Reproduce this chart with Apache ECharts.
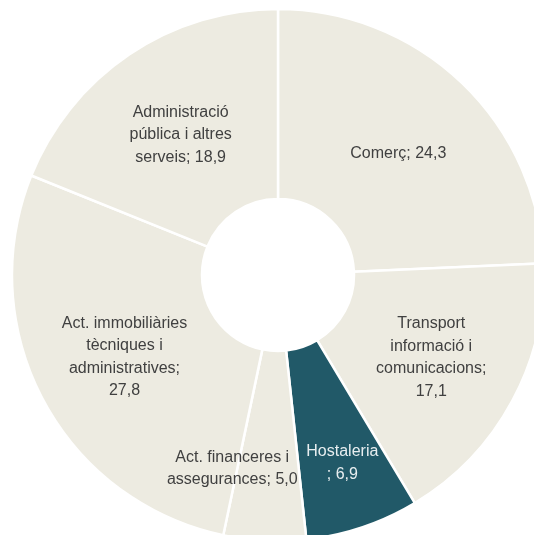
<!DOCTYPE html>
<html>
<head>
<meta charset="utf-8">
<script src="https://cdn.jsdelivr.net/npm/echarts@6/dist/echarts.min.js"></script>
<style>
html,body{margin:0;padding:0;background:#fff;}
#chart{width:534px;height:535px;}
</style>
</head>
<body>
<div id="chart"></div>
<script>
// Data
const categories = [
  'Comerç',
  'Transport\ninformació i\ncomunicacions',
  'Hostaleria\n',
  'Act. financeres i\nassegurances',
  'Act. immobiliàries\ntècniques i\nadministratives',
  'Administració\npública i altres\nserveis'
];
const valueLabels = ['24,3', '17,1', '6,9', '5,0', '27,8', '18,9'];
const separators = ['; ', ';\n', '; ', '; ', ';\n', '; '];
const values = [24.3, 17.1, 6.9, 5.0, 27.8, 18.9];
const highlightIndex = 2;

// Layout/style (kept separate from data)
const labelOffsets = [[0, 4], [0, 0], [9, 23], [-37, 20], [0, 0], [0, 4]];
const baseColor = '#EDEBE1';
const accentColor = '#215968';

const chart = echarts.init(document.getElementById('chart'), null, {renderer: 'canvas'});
const seriesData = values.map((v, i) => ({
  value: v,
  name: categories[i],
  itemStyle: {color: i === highlightIndex ? accentColor : baseColor},
  label: {
    color: i === highlightIndex ? '#E8EEF0' : '#404040',
    formatter: categories[i] + separators[i] + valueLabels[i]
  }
}));

chart.setOption({
  animation: false,
  backgroundColor: '#ffffff',
  series: [{
    type: 'pie',
    center: [278, 275],
    radius: [76, 266],
    startAngle: 90,
    clockwise: true,
    avoidLabelOverlap: false,
    itemStyle: {borderColor: '#ffffff', borderWidth: 2.5},
    label: {
      show: true,
      position: 'inside',
      fontFamily: 'Liberation Sans, Arial, sans-serif',
      fontSize: 16,
      lineHeight: 22.5,
      align: 'center'
    },
    labelLine: {show: false},
    emphasis: {disabled: true},
    labelLayout: function (params) {
      const o = labelOffsets[params.dataIndex];
      return {dx: o[0], dy: o[1]};
    },
    data: seriesData
  }]
});
</script>
</body>
</html>
